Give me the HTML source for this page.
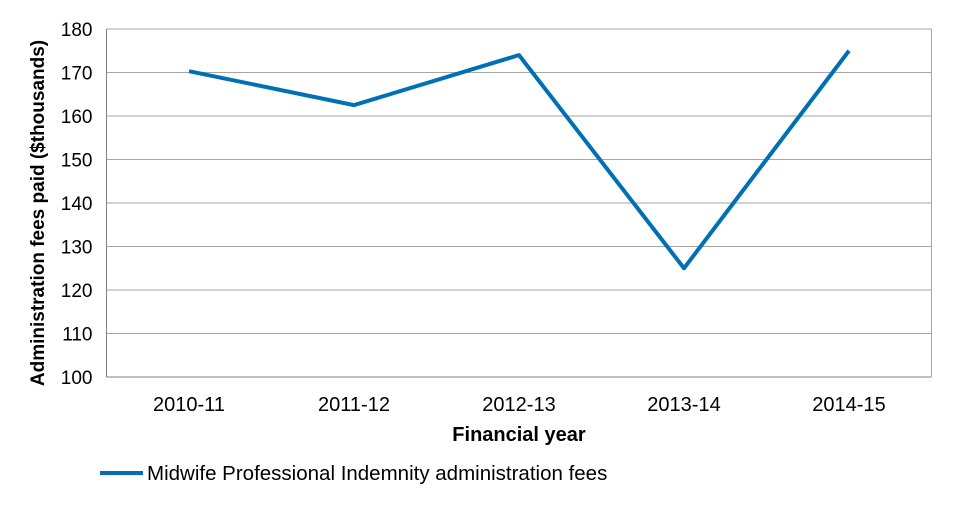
<!DOCTYPE html>
<html><head><meta charset="utf-8"><style>
body{margin:0;background:#fff;}
svg text{font-family:"Liberation Sans",Arial,sans-serif;fill:#000;}
</style></head><body>
<svg width="959" height="505" viewBox="0 0 959 505" xmlns="http://www.w3.org/2000/svg">
<g id="grid"></g><g id="axes"></g><g id="series"></g>
<text x="519" y="441" font-size="20" font-weight="bold" text-anchor="middle">Financial year</text>
<text transform="translate(44,213) rotate(-90)" font-size="19" font-weight="bold" text-anchor="middle">Administration fees paid ($thousands)</text>
<g>
<line x1="100" y1="473" x2="143" y2="473" stroke="#0070b5" stroke-width="4"/>
<text x="147" y="480" font-size="20.5">Midwife Professional Indemnity administration fees</text>
</g>
</svg>
<script>
const categories=["2010-11","2011-12","2012-13","2013-14","2014-15"];
const values=[170.3,162.5,174,125,175];
const yTicks=[100,110,120,130,140,150,160,170,180];
const L=106.5,R=931.5,T=29,B=377,yMin=100,yMax=180;
const ns="http://www.w3.org/2000/svg";
const band=(R-L)/categories.length;
function x(i){return L+band*(i+0.5);}
function y(v){return B-(v-yMin)/(yMax-yMin)*(B-T);}
function mk(tag,attrs,parent){const e=document.createElementNS(ns,tag);for(const k in attrs)e.setAttribute(k,attrs[k]);parent.appendChild(e);return e;}
const grid=document.getElementById('grid'),axes=document.getElementById('axes'),series=document.getElementById('series');
yTicks.forEach(t=>{
  const g=mk('line',{x1:L,x2:R,y1:y(t),y2:y(t),stroke:'#a6a6a6','stroke-width':1},grid);
  
  
  const tx=mk('text',{x:L-14,y:y(t)+7,'font-size':19,'text-anchor':'end'},axes);
  tx.textContent=t;
  
  
});
const ax=mk('line',{x1:L,x2:R,y1:B,y2:B,stroke:'#808080','stroke-width':1},axes);


const ay=mk('line',{x1:L,x2:L,y1:T,y2:B,stroke:'#808080','stroke-width':1},axes);


const rb=mk('line',{x1:R,x2:R,y1:T,y2:B,stroke:'#a6a6a6','stroke-width':1},axes);


categories.forEach((c,i)=>{
  const tx=mk('text',{x:x(i),y:B+34,'font-size':20,'text-anchor':'middle'},axes);
  tx.textContent=c;
  
  
});
const pts=values.map((v,i)=>x(i)+','+y(v)).join(' ');
const pl=mk('polyline',{points:pts,fill:'none',stroke:'#0070b5','stroke-width':4,'stroke-linejoin':'round'},series);


</script>
</body></html>
